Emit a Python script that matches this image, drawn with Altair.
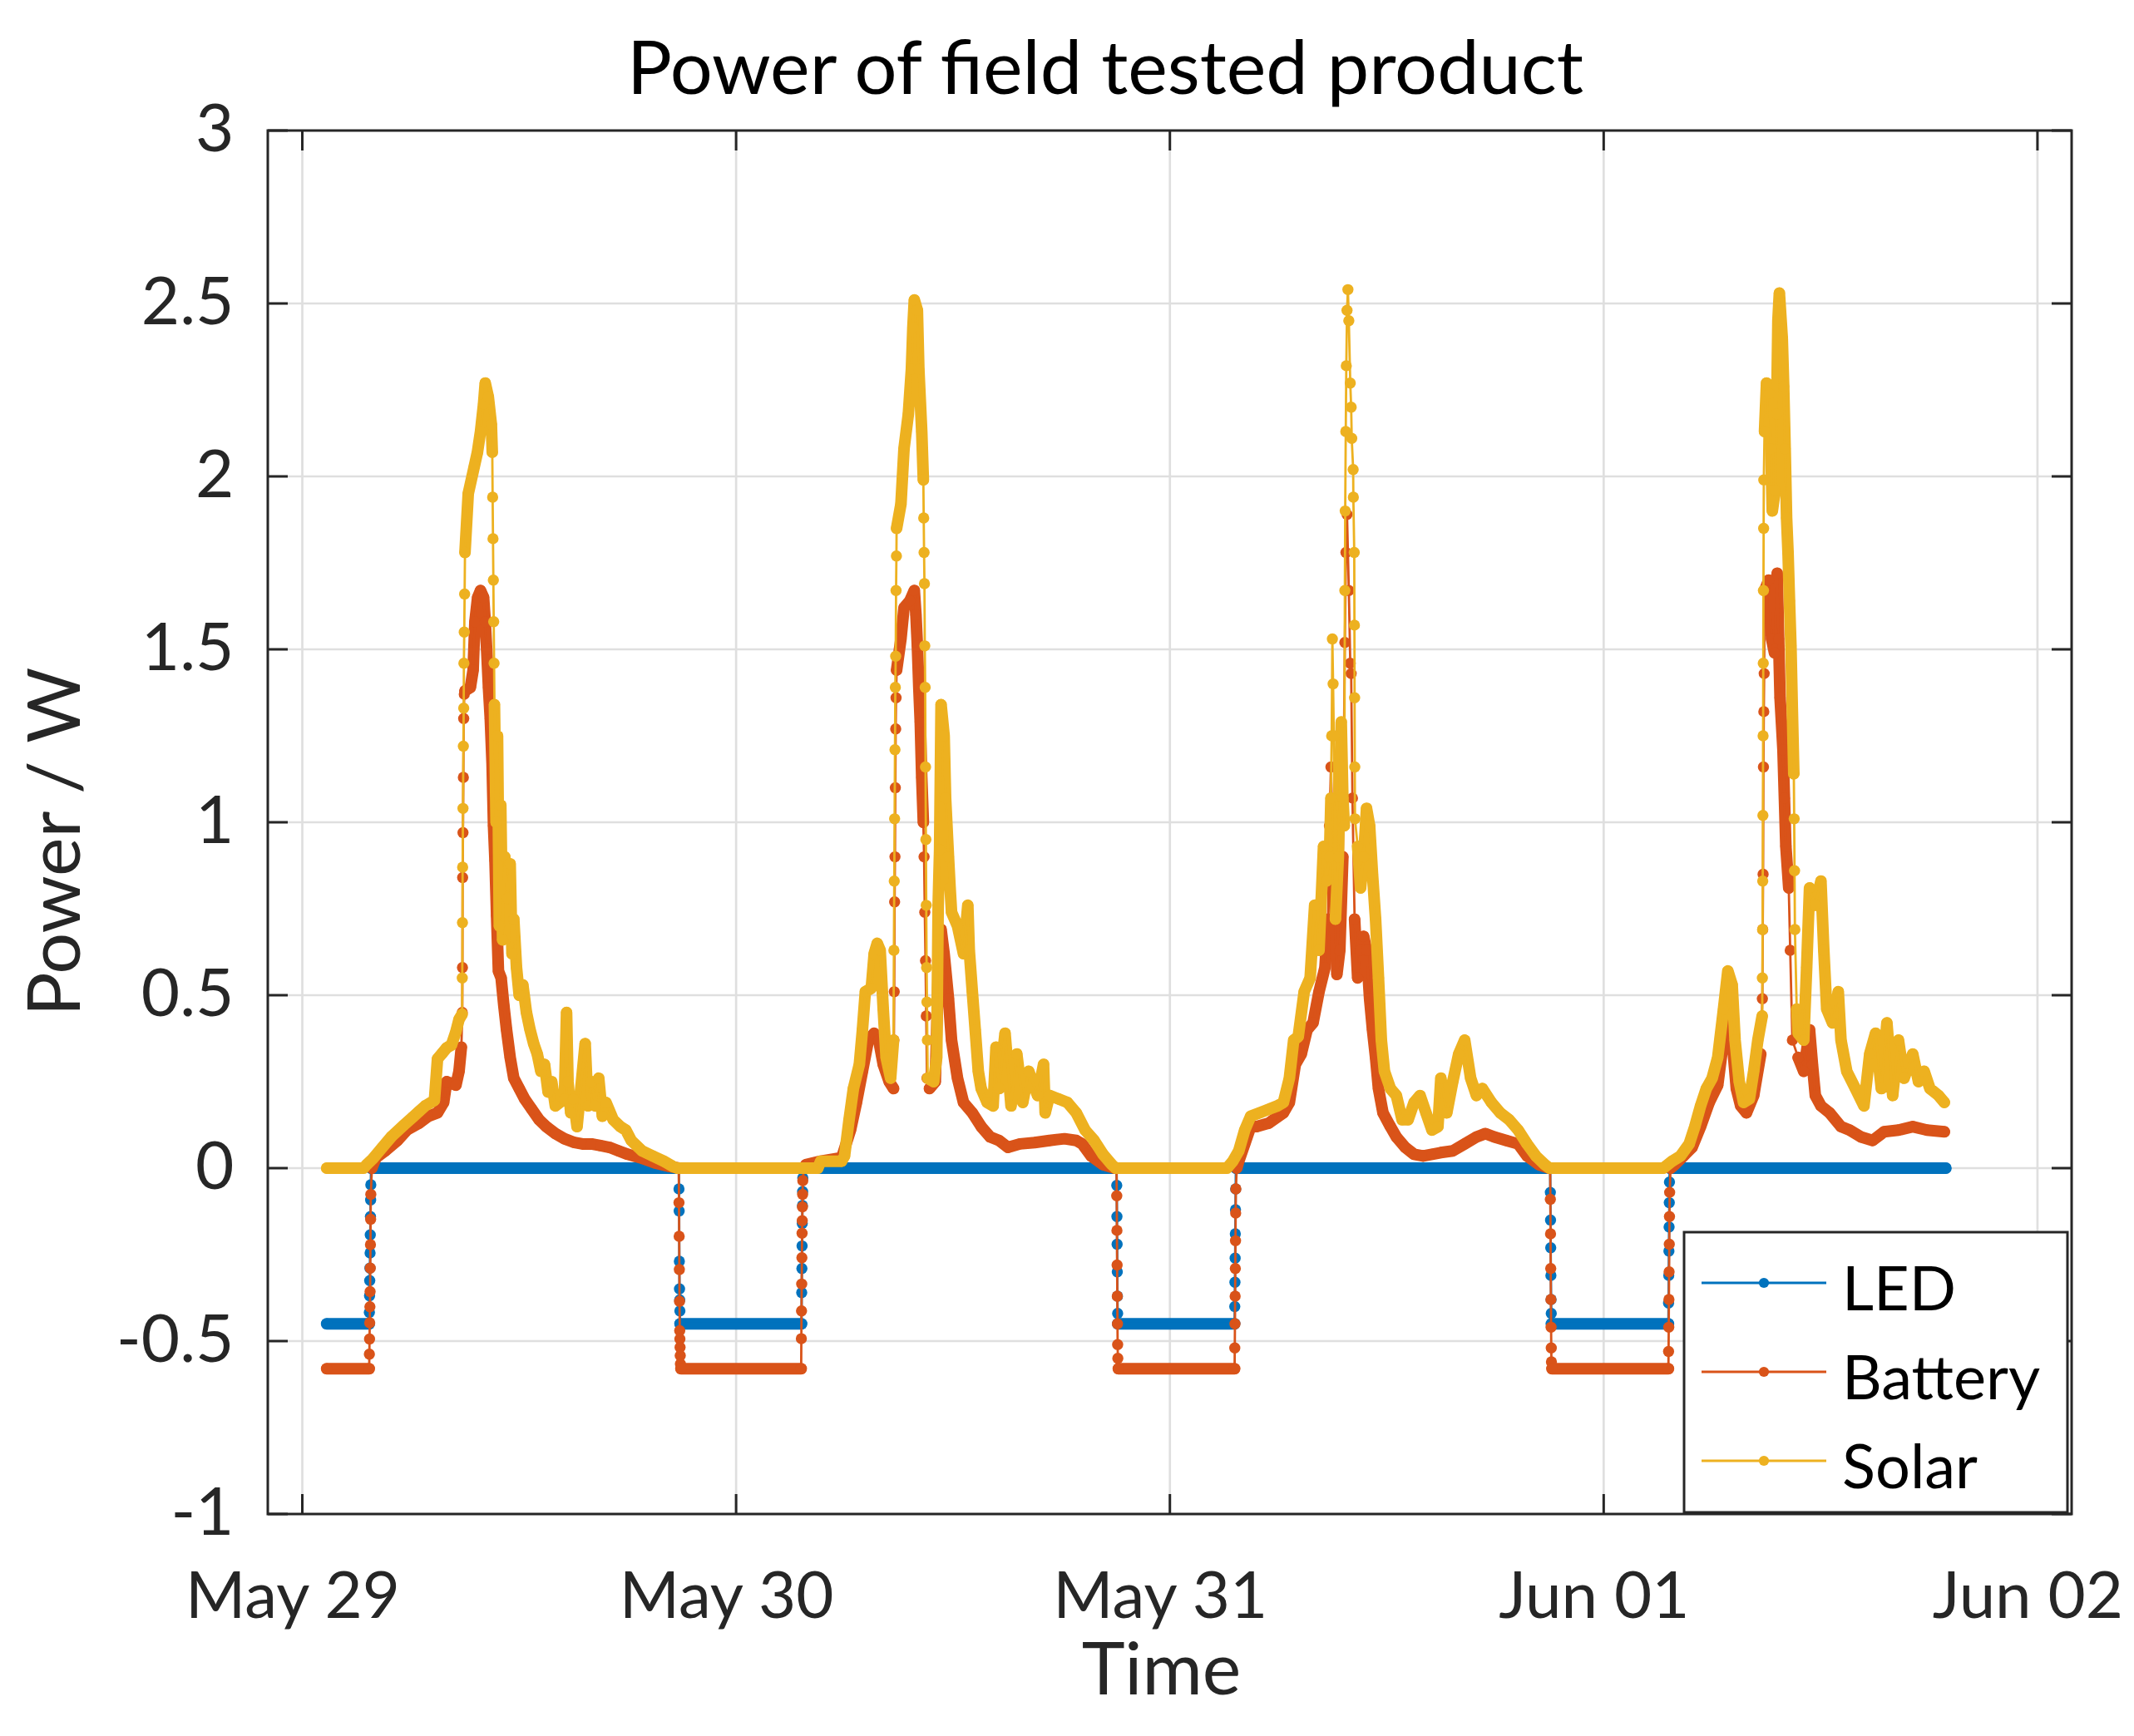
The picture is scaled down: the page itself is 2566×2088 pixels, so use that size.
import altair as alt
import pandas as pd

# ---------------- data ----------------
SERIES = ["LED", "Battery", "Solar"]
COLORS = ["#0072BD", "#D95319", "#EDB120"]

# (hours since May 29 00:00, power in W, 1 = part of a dense run of samples)
led_points = [
    (1.35, -0.45, 1), (3.70, -0.45, 1),
    (3.71, -0.417, 0), (3.72, -0.369, 0), (3.73, -0.325, 0), (3.74, -0.289, 0), (3.75, -0.245, 0),
    (3.76, -0.193, 0), (3.77, -0.14, 0), (3.78, -0.092, 0), (3.79, -0.048, 0),
    (3.80, 0, 1), (20.83, 0, 1),
    (20.84, -0.06, 0), (20.85, -0.124, 0), (20.86, -0.269, 0), (20.87, -0.349, 0), (20.88, -0.381, 0), (20.89, -0.413, 0),
    (20.90, -0.45, 1), (27.62, -0.45, 1),
    (27.63, -0.36, 0), (27.64, -0.29, 0), (27.65, -0.225, 0), (27.66, -0.16, 0), (27.67, -0.108, 0),
    (27.68, -0.068, 0), (27.69, -0.028, 0),
    (27.70, 0, 1), (45.05, 0, 1),
    (45.06, -0.05, 0), (45.07, -0.14, 0), (45.08, -0.22, 0), (45.09, -0.30, 0), (45.10, -0.37, 0), (45.11, -0.42, 0),
    (45.12, -0.45, 1), (51.58, -0.45, 1),
    (51.59, -0.40, 0), (51.60, -0.33, 0), (51.61, -0.26, 0), (51.62, -0.19, 0), (51.63, -0.12, 0), (51.64, -0.06, 0),
    (51.65, 0, 1), (69.04, 0, 1),
    (69.05, -0.07, 0), (69.06, -0.15, 0), (69.07, -0.23, 0), (69.08, -0.31, 0), (69.09, -0.38, 0), (69.10, -0.42, 0),
    (69.11, -0.45, 1), (75.58, -0.45, 1),
    (75.59, -0.39, 0), (75.60, -0.31, 0), (75.61, -0.24, 0), (75.62, -0.17, 0), (75.63, -0.10, 0), (75.64, -0.04, 0),
    (75.65, 0, 1), (90.93, 0, 1),
]

battery_points = [
    (1.35, -0.58, 1), (3.70, -0.58, 1),
    (3.71, -0.538, 0), (3.72, -0.494, 0), (3.73, -0.447, 0), (3.74, -0.401, 0), (3.75, -0.357, 0),
    (3.76, -0.289, 0), (3.77, -0.221, 0), (3.78, -0.148, 0), (3.79, -0.076, 0),
    # May 29
    (3.85, 0.0, 1), (4.08, 0.03, 1), (4.59, 0.05, 1), (5.27, 0.08, 1), (5.78, 0.11, 1), (6.46, 0.13, 1),
    (6.97, 0.15, 1), (7.48, 0.16, 1), (7.82, 0.19, 1), (7.99, 0.25, 1), (8.50, 0.24, 1), (8.67, 0.28, 1), (8.80, 0.35, 1),
    (8.85, 0.45, 0), (8.86, 0.58, 0), (8.87, 0.84, 0), (8.89, 0.97, 0), (8.91, 1.13, 0), (8.93, 1.30, 0), (8.96, 1.37, 0),
    (9.00, 1.38, 1), (9.30, 1.39, 1), (9.45, 1.44, 1), (9.55, 1.58, 1), (9.70, 1.65, 1), (9.86, 1.67, 1),
    (10.03, 1.65, 1), (10.12, 1.58, 1), (10.20, 1.50, 1), (10.30, 1.39, 1), (10.40, 1.30, 1), (10.50, 1.17, 1),
    (10.58, 0.99, 1), (10.66, 0.89, 1), (10.75, 0.73, 1), (10.85, 0.57, 1), (11.00, 0.55, 1), (11.15, 0.47, 1),
    (11.30, 0.40, 1), (11.50, 0.32, 1), (11.70, 0.26, 1), (12.00, 0.23, 1), (12.30, 0.20, 1), (12.70, 0.17, 1),
    (13.10, 0.14, 1), (13.50, 0.12, 1), (14.00, 0.10, 1), (14.50, 0.085, 1), (15.00, 0.075, 1), (15.50, 0.07, 1),
    (16.00, 0.07, 1), (16.50, 0.065, 1), (17.00, 0.06, 1), (17.50, 0.05, 1), (18.00, 0.04, 1), (18.70, 0.03, 1),
    (19.50, 0.015, 1), (20.30, 0.005, 1), (20.83, 0, 1),
    (20.84, -0.10, 0), (20.85, -0.197, 0), (20.86, -0.293, 0), (20.87, -0.385, 0), (20.88, -0.47, 0),
    (20.89, -0.494, 0), (20.90, -0.518, 0), (20.91, -0.542, 0), (20.92, -0.566, 0),
    (20.95, -0.58, 1), (27.60, -0.58, 1),
    (27.61, -0.493, 0), (27.62, -0.413, 0), (27.63, -0.335, 0), (27.64, -0.259, 0), (27.65, -0.188, 0),
    (27.66, -0.152, 0), (27.67, -0.112, 0), (27.68, -0.076, 0), (27.69, -0.036, 0),
    # May 30
    (27.75, 0, 1), (27.86, 0.01, 1), (28.68, 0.02, 1), (29.84, 0.03, 1), (30.33, 0.11, 1), (30.66, 0.19, 1),
    (30.99, 0.28, 1), (31.32, 0.37, 1), (31.64, 0.39, 1), (31.89, 0.37, 1), (32.14, 0.30, 1), (32.47, 0.25, 1), (32.71, 0.23, 1),
    (32.73, 0.37, 0), (32.75, 0.51, 0), (32.77, 0.77, 0), (32.79, 0.90, 0), (32.81, 1.10, 0), (32.83, 1.27, 0), (32.85, 1.36, 0),
    (32.88, 1.44, 1), (33.12, 1.53, 1), (33.29, 1.62, 1), (33.61, 1.64, 1), (33.86, 1.67, 1), (33.95, 1.60, 1),
    (34.03, 1.51, 1), (34.11, 1.39, 1), (34.19, 1.29, 1), (34.27, 1.13, 1), (34.36, 1.00, 1),
    (34.40, 0.90, 0), (34.44, 0.74, 0), (34.48, 0.60, 0), (34.52, 0.44, 0), (34.56, 0.26, 0),
    (34.70, 0.23, 1), (35.02, 0.25, 1), (35.18, 0.55, 1), (35.34, 0.69, 1), (35.51, 0.62, 1), (35.75, 0.49, 1),
    (35.92, 0.37, 1), (36.25, 0.26, 1), (36.58, 0.19, 1), (37.07, 0.16, 1), (37.56, 0.12, 1), (38.06, 0.09, 1),
    (38.55, 0.08, 1), (39.04, 0.06, 1), (39.70, 0.07, 1), (40.52, 0.074, 1), (41.34, 0.08, 1), (42.17, 0.085, 1),
    (42.82, 0.08, 1), (43.15, 0.07, 1), (43.64, 0.035, 1), (44.30, 0.01, 1), (44.95, 0, 1), (45.05, 0, 1),
    (45.06, -0.08, 0), (45.07, -0.18, 0), (45.08, -0.28, 0), (45.09, -0.37, 0), (45.10, -0.45, 0), (45.11, -0.51, 0), (45.12, -0.55, 0),
    (45.15, -0.58, 1), (51.58, -0.58, 1),
    (51.59, -0.52, 0), (51.60, -0.45, 0), (51.61, -0.37, 0), (51.62, -0.29, 0), (51.63, -0.21, 0), (51.64, -0.13, 0), (51.65, -0.06, 0),
    # May 31
    (51.70, 0, 1), (51.81, 0.02, 1), (52.14, 0.07, 1), (52.47, 0.12, 1), (52.80, 0.12, 1), (53.46, 0.13, 1),
    (54.28, 0.16, 1), (54.61, 0.19, 1), (54.94, 0.30, 1), (55.27, 0.33, 1), (55.59, 0.40, 1), (55.92, 0.42, 1),
    (56.25, 0.51, 1), (56.58, 0.58, 1), (56.75, 0.72, 1),
    (56.83, 0.99, 0), (56.91, 1.16, 0),
    (57.07, 0.85, 1), (57.24, 0.56, 1), (57.40, 0.63, 1), (57.57, 0.90, 1),
    (57.68, 1.52, 0), (57.74, 1.78, 0), (57.80, 1.89, 0), (57.90, 1.67, 0), (57.98, 1.46, 0), (58.03, 1.43, 0), (58.10, 1.07, 0),
    (58.22, 0.72, 1), (58.39, 0.55, 1), (58.55, 0.63, 1), (58.72, 0.67, 1), (58.88, 0.63, 1), (59.05, 0.49, 1),
    (59.21, 0.40, 1), (59.38, 0.32, 1), (59.54, 0.23, 1), (59.79, 0.16, 1), (60.20, 0.12, 1), (60.53, 0.09, 1),
    (61.02, 0.06, 1), (61.51, 0.04, 1), (62.01, 0.035, 1), (62.50, 0.04, 1), (62.99, 0.045, 1), (63.65, 0.05, 1),
    (64.31, 0.07, 1), (64.96, 0.09, 1), (65.46, 0.10, 1), (65.95, 0.09, 1), (66.61, 0.08, 1), (67.27, 0.07, 1),
    (67.76, 0.035, 1), (68.42, 0.01, 1), (68.99, 0, 1), (69.04, 0, 1),
    (69.05, -0.09, 0), (69.06, -0.19, 0), (69.07, -0.29, 0), (69.08, -0.38, 0), (69.09, -0.46, 0), (69.10, -0.52, 0), (69.11, -0.56, 0),
    (69.14, -0.58, 1), (75.58, -0.58, 1),
    (75.59, -0.53, 0), (75.60, -0.46, 0), (75.61, -0.38, 0), (75.62, -0.30, 0), (75.63, -0.22, 0), (75.64, -0.14, 0), (75.65, -0.07, 0),
    # Jun 01
    (75.70, 0, 1), (75.93, 0.01, 1), (76.41, 0.035, 1), (76.89, 0.06, 1), (77.36, 0.12, 1), (77.84, 0.19, 1),
    (78.31, 0.24, 1), (78.63, 0.37, 1), (78.92, 0.47, 1), (79.11, 0.37, 1), (79.34, 0.23, 1), (79.58, 0.18, 1),
    (79.90, 0.16, 1), (80.30, 0.21, 1), (80.69, 0.33, 1),
    (80.78, 0.49, 0), (80.80, 0.69, 0), (80.82, 0.85, 0), (80.84, 1.16, 0), (80.86, 1.32, 0), (80.88, 1.43, 0),
    (80.90, 1.67, 1), (81.13, 1.70, 1), (81.29, 1.53, 1), (81.45, 1.49, 1), (81.60, 1.72, 1), (81.68, 1.53, 1),
    (81.76, 1.36, 1), (81.92, 1.21, 1), (82.00, 1.07, 1), (82.08, 0.93, 1), (82.24, 0.81, 1),
    (82.32, 0.63, 0), (82.44, 0.37, 0),
    (82.76, 0.32, 1), (83.07, 0.28, 1), (83.39, 0.40, 1), (83.55, 0.30, 1), (83.71, 0.21, 1), (84.02, 0.18, 1),
    (84.50, 0.16, 1), (85.13, 0.12, 1), (85.61, 0.11, 1), (86.24, 0.09, 1), (86.88, 0.08, 1), (87.51, 0.105, 1),
    (88.31, 0.11, 1), (89.10, 0.12, 1), (89.89, 0.11, 1), (90.85, 0.105, 1),
]

solar_points = [
    # May 29
    (1.35, 0, 1), (3.39, 0, 1), (3.56, 0.01, 1), (3.90, 0.027, 1), (4.41, 0.059, 1), (4.93, 0.091, 1),
    (5.61, 0.124, 1), (6.12, 0.148, 1), (6.46, 0.164, 1), (6.80, 0.18, 1), (7.31, 0.196, 1), (7.48, 0.316, 1),
    (7.74, 0.332, 1), (7.99, 0.348, 1), (8.25, 0.356, 1), (8.50, 0.395, 1), (8.67, 0.43, 1), (8.84, 0.445, 1),
    (8.85, 0.55, 0), (8.86, 0.71, 0), (8.87, 0.87, 0), (8.89, 1.04, 0), (8.91, 1.22, 0), (8.93, 1.33, 0),
    (8.94, 1.46, 0), (8.96, 1.55, 0), (8.98, 1.66, 0),
    (9.00, 1.78, 1), (9.18, 1.95, 1), (9.52, 2.03, 1), (9.69, 2.07, 1), (9.86, 2.13, 1), (10.03, 2.21, 1),
    (10.12, 2.27, 1), (10.29, 2.23, 1), (10.46, 2.15, 1), (10.51, 2.07, 1),
    (10.53, 1.94, 0), (10.55, 1.82, 0), (10.57, 1.70, 0), (10.59, 1.58, 0), (10.61, 1.46, 0),
    (10.63, 1.34, 1), (10.72, 1.00, 1), (10.80, 1.25, 1), (10.90, 0.70, 1), (10.98, 1.05, 1), (11.08, 0.66, 1),
    (11.20, 0.90, 1), (11.35, 0.78, 1), (11.50, 0.88, 1), (11.60, 0.62, 1), (11.70, 0.72, 1), (11.85, 0.58, 1),
    (12.00, 0.50, 1), (12.20, 0.53, 1), (12.40, 0.45, 1), (12.60, 0.40, 1), (12.80, 0.36, 1), (13.00, 0.33, 1),
    (13.20, 0.28, 1), (13.40, 0.30, 1), (13.60, 0.22, 1), (13.80, 0.25, 1), (14.00, 0.18, 1), (14.50, 0.20, 1),
    (14.62, 0.45, 1), (14.70, 0.25, 1), (14.85, 0.16, 1), (15.00, 0.20, 1), (15.20, 0.12, 1), (15.65, 0.36, 1),
    (15.80, 0.18, 1), (16.00, 0.25, 1), (16.20, 0.18, 1), (16.40, 0.26, 1), (16.60, 0.15, 1), (16.80, 0.19, 1),
    (17.20, 0.14, 1), (17.60, 0.12, 1), (17.90, 0.11, 1), (18.20, 0.08, 1), (18.80, 0.05, 1), (19.40, 0.035, 1),
    (20.00, 0.02, 1), (20.50, 0.005, 1), (20.75, 0, 1),
    # May 30
    (28.52, 0, 1), (28.68, 0.02, 1), (29.84, 0.02, 1), (30.00, 0.035, 1), (30.25, 0.14, 1), (30.49, 0.23, 1),
    (30.82, 0.30, 1), (30.99, 0.40, 1), (31.15, 0.51, 1), (31.48, 0.52, 1), (31.64, 0.62, 1), (31.81, 0.65, 1),
    (31.97, 0.63, 1), (32.14, 0.46, 1), (32.30, 0.32, 1), (32.55, 0.26, 1), (32.71, 0.37, 1),
    (32.73, 0.63, 0), (32.75, 0.83, 0), (32.77, 1.01, 0), (32.79, 1.21, 0), (32.81, 1.39, 0), (32.83, 1.48, 0),
    (32.85, 1.67, 0), (32.87, 1.77, 0),
    (32.88, 1.85, 1), (33.12, 1.92, 1), (33.29, 2.08, 1), (33.53, 2.18, 1), (33.70, 2.31, 1), (33.78, 2.43, 1),
    (33.86, 2.51, 1), (34.03, 2.48, 1), (34.11, 2.31, 1), (34.27, 2.13, 1), (34.36, 1.99, 1),
    (34.38, 1.88, 0), (34.40, 1.78, 0), (34.42, 1.69, 0), (34.44, 1.51, 0), (34.46, 1.39, 0), (34.48, 1.16, 0),
    (34.50, 0.95, 0), (34.52, 0.76, 0), (34.54, 0.58, 0), (34.56, 0.48, 0), (34.58, 0.37, 0),
    (34.60, 0.26, 1), (34.93, 0.25, 1), (35.10, 0.32, 1), (35.18, 0.76, 1), (35.26, 0.92, 1), (35.34, 1.34, 1),
    (35.51, 1.25, 1), (35.59, 1.07, 1), (35.75, 0.90, 1), (35.84, 0.81, 1), (35.92, 0.74, 1), (36.25, 0.70, 1),
    (36.58, 0.62, 1), (36.82, 0.76, 1), (36.90, 0.63, 1), (37.07, 0.51, 1), (37.23, 0.40, 1), (37.40, 0.28, 1),
    (37.56, 0.23, 1), (37.89, 0.19, 1), (38.22, 0.18, 1), (38.38, 0.35, 1), (38.55, 0.23, 1), (38.88, 0.39, 1),
    (39.21, 0.18, 1), (39.53, 0.33, 1), (39.86, 0.19, 1), (40.19, 0.28, 1), (40.68, 0.21, 1), (41.01, 0.30, 1),
    (41.10, 0.16, 1), (41.34, 0.21, 1), (41.84, 0.20, 1), (42.33, 0.19, 1), (42.82, 0.16, 1), (43.31, 0.11, 1),
    (43.81, 0.08, 1), (44.30, 0.04, 1), (44.79, 0.01, 1), (45.00, 0, 1),
    # May 31
    (51.16, 0, 1), (51.48, 0.02, 1), (51.81, 0.05, 1), (52.14, 0.11, 1), (52.47, 0.15, 1), (52.96, 0.16, 1),
    (53.46, 0.17, 1), (53.95, 0.18, 1), (54.28, 0.19, 1), (54.61, 0.26, 1), (54.85, 0.37, 1), (55.10, 0.38, 1),
    (55.43, 0.51, 1), (55.76, 0.55, 1), (56.01, 0.76, 1), (56.25, 0.63, 1), (56.50, 0.93, 1), (56.66, 0.83, 1),
    (56.83, 0.90, 1), (56.91, 1.07, 1),
    (56.95, 1.25, 0), (56.99, 1.53, 0), (57.03, 1.40, 0), (57.07, 1.25, 0),
    (57.16, 0.72, 1), (57.32, 0.90, 1), (57.48, 1.29, 1), (57.57, 1.07, 1), (57.65, 0.99, 1),
    (57.68, 1.67, 0), (57.70, 1.90, 0), (57.73, 2.13, 0), (57.76, 2.32, 0), (57.80, 2.48, 0), (57.85, 2.54, 0),
    (57.90, 2.45, 0), (57.98, 2.27, 0), (58.03, 2.20, 0), (58.06, 2.11, 0), (58.14, 2.02, 0), (58.15, 1.94, 0),
    (58.20, 1.78, 0), (58.21, 1.57, 0), (58.22, 1.36, 0), (58.23, 1.16, 0), (58.24, 1.01, 0),
    (58.39, 0.93, 1), (58.55, 0.81, 1), (58.72, 0.90, 1), (58.88, 1.04, 1), (59.05, 0.99, 1), (59.21, 0.85, 1),
    (59.38, 0.72, 1), (59.54, 0.55, 1), (59.70, 0.37, 1), (59.87, 0.28, 1), (60.20, 0.23, 1), (60.53, 0.21, 1),
    (60.85, 0.14, 1), (61.18, 0.14, 1), (61.51, 0.19, 1), (61.84, 0.21, 1), (62.17, 0.16, 1), (62.50, 0.11, 1),
    (62.83, 0.12, 1), (62.99, 0.26, 1), (63.32, 0.16, 1), (63.65, 0.25, 1), (63.98, 0.33, 1), (64.31, 0.37, 1),
    (64.64, 0.26, 1), (64.96, 0.21, 1), (65.29, 0.23, 1), (65.79, 0.19, 1), (66.28, 0.16, 1), (66.77, 0.14, 1),
    (67.27, 0.11, 1), (67.76, 0.07, 1), (68.25, 0.035, 1), (68.75, 0.01, 1), (69.00, 0, 1),
    # Jun 01
    (75.30, 0, 1), (75.78, 0.02, 1), (76.25, 0.035, 1), (76.73, 0.07, 1), (77.04, 0.12, 1), (77.36, 0.18, 1),
    (77.68, 0.23, 1), (78.00, 0.26, 1), (78.31, 0.32, 1), (78.63, 0.46, 1), (78.87, 0.57, 1), (79.11, 0.53, 1),
    (79.27, 0.37, 1), (79.50, 0.25, 1), (79.74, 0.19, 1), (80.06, 0.20, 1), (80.30, 0.28, 1), (80.53, 0.37, 1), (80.77, 0.44, 1),
    (80.78, 0.55, 0), (80.79, 0.69, 0), (80.80, 0.83, 0), (80.81, 1.02, 0), (80.82, 1.25, 0), (80.83, 1.46, 0),
    (80.84, 1.67, 0), (80.85, 1.85, 0), (80.86, 1.99, 0),
    (80.90, 2.13, 1), (81.01, 2.27, 1), (81.17, 2.24, 1), (81.25, 2.08, 1), (81.33, 1.90, 1), (81.49, 1.96, 1),
    (81.57, 2.18, 1), (81.64, 2.45, 1), (81.72, 2.53, 1), (81.88, 2.40, 1), (81.96, 2.26, 1), (82.04, 2.08, 1),
    (82.12, 1.88, 1), (82.20, 1.78, 1), (82.28, 1.64, 1), (82.36, 1.51, 1), (82.44, 1.32, 1), (82.52, 1.14, 1),
    (82.54, 1.01, 0), (82.56, 0.86, 0), (82.58, 0.69, 0),
    (82.68, 0.46, 1), (82.76, 0.39, 1), (83.07, 0.37, 1), (83.23, 0.58, 1), (83.39, 0.81, 1), (83.71, 0.76, 1),
    (84.02, 0.83, 1), (84.18, 0.63, 1), (84.34, 0.46, 1), (84.66, 0.42, 1), (84.98, 0.51, 1), (85.13, 0.37, 1),
    (85.45, 0.28, 1), (85.93, 0.23, 1), (86.40, 0.18, 1), (86.72, 0.33, 1), (87.04, 0.39, 1), (87.36, 0.23, 1),
    (87.67, 0.42, 1), (87.99, 0.21, 1), (88.31, 0.37, 1), (88.62, 0.26, 1), (89.10, 0.33, 1), (89.42, 0.25, 1),
    (89.73, 0.28, 1), (90.05, 0.23, 1), (90.53, 0.21, 1), (90.85, 0.19, 1),
]

x_tick_hours = [0, 24, 48, 72, 96]          # May 29 .. Jun 02
y_ticks = [-1, -0.5, 0, 0.5, 1, 1.5, 2, 2.5, 3]
x_domain_hours = [-1.91, 97.89]
y_domain = [-1, 3]

TITLE = "Power of field tested product"
X_TITLE = "Time"
Y_TITLE = "Power / W"

# ---------------- build tables ----------------
BASE_MS = pd.Timestamp("2019-05-29T00:00:00Z").value // 10**6


def to_ms(h):
    return int(BASE_MS + round(h * 3600 * 1000))


rows = []
for name, pts in zip(SERIES, [led_points, battery_points, solar_points]):
    seg, prev = 0, None
    for h, w, d in pts:
        if d != prev:
            seg += 1
            prev = d
        rows.append({"series": name, "t": to_ms(h), "w": w, "dense": d, "seg": seg})
df = pd.DataFrame(rows)

W, H = 2169, 1664
TICK = 24
AX = "#262626"
GRID = "#DFDFDF"
FONT = "Lato"
BAND = 14
DOT = 180

x_scale = alt.Scale(type="utc", domain=[to_ms(x_domain_hours[0]), to_ms(x_domain_hours[1])])
y_scale = alt.Scale(domain=y_domain, nice=False, zero=False)

x_axis = alt.Axis(
    values=[to_ms(h) for h in x_tick_hours], labelExpr="utcFormat(datum.value, '%b %d')",
    grid=False, ticks=False, tickSize=0, domain=False, labelFlush=False, labelOverlap=False, labelLimit=600,
    labelFont=FONT, labelFontSize=78, labelColor=AX, labelPadding=124, labelBaseline="alphabetic",
    labelOffset=-12,
    title=X_TITLE, titleFont=FONT, titleFontSize=88, titleFontWeight="normal", titleColor=AX,
    titleX=1074, titleY=216, titleAlign="center", titleBaseline="alphabetic",
)
y_axis = alt.Axis(
    values=y_ticks, labelExpr="datum.value + ''",
    grid=False, ticks=False, tickSize=0, domain=False, labelFlush=False, labelOverlap=False,
    labelFont=FONT, labelFontSize=80, labelColor=AX, labelPadding=41, labelBaseline="middle",
    title=Y_TITLE, titleFont=FONT, titleFontSize=88, titleFontWeight="normal", titleColor=AX,
    titleX=-253, titleY=855, titleAngle=270, titleAlign="center", titleBaseline="middle",
)
x_enc = alt.X("t:T", scale=x_scale, axis=x_axis)
y_enc = alt.Y("w:Q", scale=y_scale, axis=y_axis)

grid_x = pd.DataFrame({"t": [to_ms(h) for h in x_tick_hours]})
grid_y = pd.DataFrame({"w": [v for v in y_ticks if y_domain[0] < v < y_domain[1]]})
ticks_y = pd.DataFrame({"w": y_ticks})
one = pd.DataFrame({"k": [0]})

layers = [
    alt.Chart(grid_y).mark_rule(color=GRID, strokeWidth=2.7).encode(y=y_enc),
    alt.Chart(grid_x).mark_rule(color=GRID, strokeWidth=2.7).encode(x=x_enc),
]

for name, col in zip(SERIES, COLORS):
    sub = df[df.series == name]
    dense = sub[sub.dense == 1]
    layers.append(
        alt.Chart(dense).mark_line(color=col, strokeWidth=BAND, strokeCap="round", strokeJoin="round")
        .encode(x=x_enc, y=y_enc, detail="seg:N")
    )
    layers.append(
        alt.Chart(sub).mark_line(color=col, strokeWidth=2.8, strokeJoin="round").encode(x=x_enc, y=y_enc)
    )
    layers.append(
        alt.Chart(sub).mark_circle(color=col, size=DOT, opacity=1).encode(x=x_enc, y=y_enc)
    )

# inward ticks on all four sides and the box
layers += [
    alt.Chart(ticks_y).mark_rule(color=AX, strokeWidth=3).encode(y=y_enc, x=alt.value(0), x2=alt.value(TICK)),
    alt.Chart(ticks_y).mark_rule(color=AX, strokeWidth=3).encode(y=y_enc, x=alt.value(W - TICK), x2=alt.value(W)),
    alt.Chart(grid_x).mark_rule(color=AX, strokeWidth=3).encode(x=x_enc, y=alt.value(0), y2=alt.value(TICK)),
    alt.Chart(grid_x).mark_rule(color=AX, strokeWidth=3).encode(x=x_enc, y=alt.value(H - TICK), y2=alt.value(H)),
    alt.Chart(one).mark_rect(fillOpacity=0, stroke=AX, strokeWidth=3).encode(
        x=alt.value(0), x2=alt.value(W), y=alt.value(0), y2=alt.value(H)),
]

# chart title (drawn as text above the box)
layers.append(
    alt.Chart(one).mark_text(text=TITLE, font=FONT, fontSize=90, color="#000000",
                             align="center", baseline="alphabetic").encode(
        x=alt.value(1007), y=alt.value(-44))
)

# legend
LX0, LX1, LY0, LY1 = 1703, 2164, 1325, 1662
ROW0, STEP = 1386, 107
layers.append(
    alt.Chart(one).mark_rect(fill="white", stroke=AX, strokeWidth=3).encode(
        x=alt.value(LX0), x2=alt.value(LX1), y=alt.value(LY0), y2=alt.value(LY1))
)
for i, (name, col) in enumerate(zip(SERIES, COLORS)):
    ry = ROW0 + i * STEP
    layers.append(alt.Chart(one).mark_rule(color=col, strokeWidth=3).encode(
        x=alt.value(1724), x2=alt.value(1874), y=alt.value(ry)))
    layers.append(alt.Chart(one).mark_circle(color=col, size=150, opacity=1).encode(
        x=alt.value(1799), y=alt.value(ry)))
    layers.append(alt.Chart(one).mark_text(text=name, font=FONT, fontSize=74, color="#000000",
                                           align="left", baseline="alphabetic").encode(
        x=alt.value(1893), y=alt.value(ry + 33)))

chart = alt.layer(*layers).properties(
    width=W, height=H,
    padding={"left": 314, "top": 149, "right": 67, "bottom": 259},
    autosize=alt.AutoSizeParams(type="none"),
).configure_view(strokeWidth=0).configure(background="white")

chart.save("out.html", embed_options={"renderer": "svg", "actions": False})
